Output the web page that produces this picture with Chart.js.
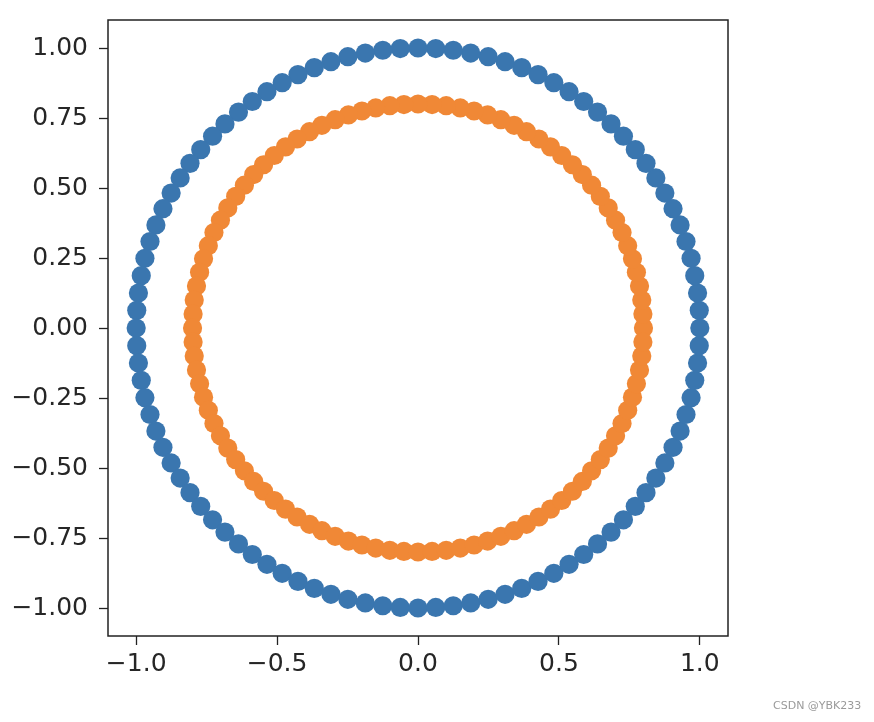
<!DOCTYPE html>
<html>
<head>
<meta charset="utf-8">
<script src="https://cdn.jsdelivr.net/npm/chart.js@4/dist/chart.umd.min.js"></script>
<style>
  html, body { margin: 0; padding: 0; background: #ffffff; }
  #wrap { position: relative; width: 874px; height: 722px; }
  #mark { position: absolute; left: 773px; top: 699px; font: 11px "DejaVu Sans", sans-serif; color: #9a9a9a; }
</style>
</head>
<body>
<div id="wrap">
  <canvas id="c" width="874" height="722"></canvas>
  <div id="mark">CSDN @YBK233</div>
</div>
<script>
// Outer circle (blue)
const outerX = [1.000,0.998,0.992,0.982,0.969,0.951,0.930,0.905,0.876,0.844,0.809,0.771,0.729,0.685,0.637,0.588,0.536,0.482,0.426,0.368,0.309,0.249,0.187,0.125,0.063,0.000,
  -0.063,-0.125,-0.187,-0.249,-0.309,-0.368,-0.426,-0.482,-0.536,-0.588,-0.637,-0.685,-0.729,-0.771,-0.809,-0.844,-0.876,-0.905,-0.930,-0.951,-0.969,-0.982,-0.992,-0.998,-1.000,
  -0.998,-0.992,-0.982,-0.969,-0.951,-0.930,-0.905,-0.876,-0.844,-0.809,-0.771,-0.729,-0.685,-0.637,-0.588,-0.536,-0.482,-0.426,-0.368,-0.309,-0.249,-0.187,-0.125,-0.063,0.000,
  0.063,0.125,0.187,0.249,0.309,0.368,0.426,0.482,0.536,0.588,0.637,0.685,0.729,0.771,0.809,0.844,0.876,0.905,0.930,0.951,0.969,0.982,0.992,0.998];
const outerY = [0.000,0.063,0.125,0.187,0.249,0.309,0.368,0.426,0.482,0.536,0.588,0.637,0.685,0.729,0.771,0.809,0.844,0.876,0.905,0.930,0.951,0.969,0.982,0.992,0.998,1.000,
  0.998,0.992,0.982,0.969,0.951,0.930,0.905,0.876,0.844,0.809,0.771,0.729,0.685,0.637,0.588,0.536,0.482,0.426,0.368,0.309,0.249,0.187,0.125,0.063,0.000,
  -0.063,-0.125,-0.187,-0.249,-0.309,-0.368,-0.426,-0.482,-0.536,-0.588,-0.637,-0.685,-0.729,-0.771,-0.809,-0.844,-0.876,-0.905,-0.930,-0.951,-0.969,-0.982,-0.992,-0.998,-1.000,
  -0.998,-0.992,-0.982,-0.969,-0.951,-0.930,-0.905,-0.876,-0.844,-0.809,-0.771,-0.729,-0.685,-0.637,-0.588,-0.536,-0.482,-0.426,-0.368,-0.309,-0.249,-0.187,-0.125,-0.063];

// Inner circle (orange)
const innerX = [0.800,0.798,0.794,0.786,0.775,0.761,0.744,0.724,0.701,0.675,0.647,0.616,0.583,0.548,0.510,0.470,0.429,0.385,0.341,0.294,0.247,0.199,0.150,0.100,0.050,0.000,
  -0.050,-0.100,-0.150,-0.199,-0.247,-0.294,-0.341,-0.385,-0.429,-0.470,-0.510,-0.548,-0.583,-0.616,-0.647,-0.675,-0.701,-0.724,-0.744,-0.761,-0.775,-0.786,-0.794,-0.798,-0.800,
  -0.798,-0.794,-0.786,-0.775,-0.761,-0.744,-0.724,-0.701,-0.675,-0.647,-0.616,-0.583,-0.548,-0.510,-0.470,-0.429,-0.385,-0.341,-0.294,-0.247,-0.199,-0.150,-0.100,-0.050,0.000,
  0.050,0.100,0.150,0.199,0.247,0.294,0.341,0.385,0.429,0.470,0.510,0.548,0.583,0.616,0.647,0.675,0.701,0.724,0.744,0.761,0.775,0.786,0.794,0.798];
const innerY = [0.000,0.050,0.100,0.150,0.199,0.247,0.294,0.341,0.385,0.429,0.470,0.510,0.548,0.583,0.616,0.647,0.675,0.701,0.724,0.744,0.761,0.775,0.786,0.794,0.798,0.800,
  0.798,0.794,0.786,0.775,0.761,0.744,0.724,0.701,0.675,0.647,0.616,0.583,0.548,0.510,0.470,0.429,0.385,0.341,0.294,0.247,0.199,0.150,0.100,0.050,0.000,
  -0.050,-0.100,-0.150,-0.199,-0.247,-0.294,-0.341,-0.385,-0.429,-0.470,-0.510,-0.548,-0.583,-0.616,-0.647,-0.675,-0.701,-0.724,-0.744,-0.761,-0.775,-0.786,-0.794,-0.798,-0.800,
  -0.798,-0.794,-0.786,-0.775,-0.761,-0.744,-0.724,-0.701,-0.675,-0.647,-0.616,-0.583,-0.548,-0.510,-0.470,-0.429,-0.385,-0.341,-0.294,-0.247,-0.199,-0.150,-0.100,-0.050];

// Ticks
const xTickValues = [-1.0, -0.5, 0.0, 0.5, 1.0];
const xTickLabels = ["\u22121.0", "\u22120.5", "0.0", "0.5", "1.0"];
const yTickValues = [-1.0, -0.75, -0.5, -0.25, 0.0, 0.25, 0.5, 0.75, 1.0];
const yTickLabels = ["\u22121.00", "\u22120.75", "\u22120.50", "\u22120.25", "0.00", "0.25", "0.50", "0.75", "1.00"];

const zip = (xs, ys) => xs.map((x, i) => ({ x: x, y: ys[i] }));

const frame = {
  id: 'frame',
  afterDatasetsDraw(chart) {
    const a = chart.chartArea, ctx = chart.ctx;
    ctx.save();
    ctx.strokeStyle = '#222222';
    ctx.lineWidth = 1.5;
    ctx.strokeRect(a.left, a.top, a.right - a.left, a.bottom - a.top);
    ctx.restore();
  }
};

const tickFont = { family: '"DejaVu Sans", sans-serif', size: 25 };

new Chart(document.getElementById('c'), {
  type: 'scatter',
  data: {
    datasets: [
      { data: zip(outerX, outerY), backgroundColor: 'rgb(58,118,175)', borderWidth: 0, pointRadius: 9.6, pointHoverRadius: 9.6 },
      { data: zip(innerX, innerY), backgroundColor: 'rgb(240,136,54)', borderWidth: 0, pointRadius: 9.6, pointHoverRadius: 9.6 }
    ]
  },
  options: {
    responsive: false,
    devicePixelRatio: 1,
    animation: false,
    events: [],
    layout: { padding: { left: 0, top: 20, right: 146, bottom: 0 } },
    plugins: { legend: { display: false }, tooltip: { enabled: false } },
    scales: {
      x: {
        type: 'linear', min: -1.1, max: 1.1,
        afterBuildTicks: s => { s.ticks = xTickValues.map(v => ({ value: v })); },
        afterFit: s => { s.height = 86; s.paddingLeft = 0; s.paddingRight = 0; },
        border: { display: false },
        grid: { drawOnChartArea: false, drawTicks: true, tickLength: 9, tickColor: '#222222', tickWidth: 1.3, color: '#222222' },
        ticks: { font: tickFont, color: '#262626', padding: 4, maxRotation: 0, autoSkip: false,
          callback: (v, i) => xTickLabels[i] }
      },
      y: {
        type: 'linear', min: -1.1, max: 1.1,
        afterBuildTicks: s => { s.ticks = yTickValues.map(v => ({ value: v })); },
        afterFit: s => { s.width = 108; s.paddingTop = 0; s.paddingBottom = 0; },
        border: { display: false },
        grid: { drawOnChartArea: false, drawTicks: true, tickLength: 9, tickColor: '#222222', tickWidth: 1.3, color: '#222222' },
        ticks: { font: tickFont, color: '#262626', padding: 11, autoSkip: false,
          callback: (v, i) => yTickLabels[i] }
      }
    }
  },
  plugins: [frame]
});
</script>
</body>
</html>
